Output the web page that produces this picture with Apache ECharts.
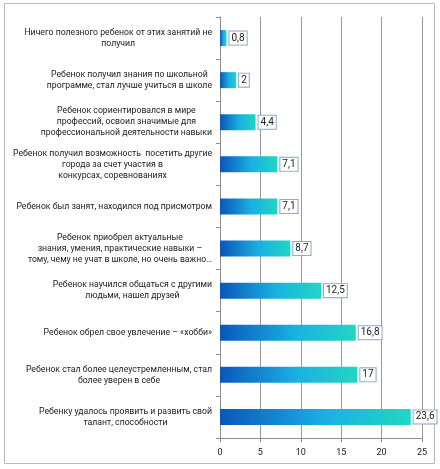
<!DOCTYPE html>
<html>
<head>
<meta charset="utf-8">
<script src="https://cdn.jsdelivr.net/npm/echarts@6/dist/echarts.min.js"></script>
<style>
  html, body { margin: 0; padding: 0; background: #fff; }
  #chart { width: 440px; height: 469px; }
</style>
</head>
<body>
<div id="chart"></div>
<script>
var categories = [
    'Ничего полезного ребенок от этих занятий не\nполучил',
    'Ребенок получил знания по школьной\nпрограмме, стал лучше учиться в школе',
    'Ребенок сориентировался в мире\nпрофессий, освоил значимые для\nпрофессиональной деятельности навыки',
    'Ребенок получил возможность  посетить другие\nгорода за счет участия в\nконкурсах, соревнованиях',
    'Ребенок был занят, находился под присмотром',
    'Ребенок приобрел актуальные\nзнания, умения, практические навыки –\nтому, чему не учат в школе, но очень важно…',
    'Ребенок научился общаться с другими\nлюдьми, нашел друзей',
    'Ребенок обрел свое увлечение – «хобби»',
    'Ребенок стал более целеустремленным, стал\nболее уверен в себе',
    'Ребенку удалось проявить и развить свой\nталант, способности'
];
var values = [0.8, 2, 4.4, 7.1, 7.1, 8.7, 12.5, 16.8, 17, 23.6];
var xTicks = [0, 5, 10, 15, 20, 25];

var chart = echarts.init(document.getElementById('chart'));

var option = {
    animation: false,
    textStyle: { fontFamily: 'Roboto' },
    graphic: [{
        type: 'rect',
        shape: { x: 4.5, y: 3.5, width: 430, height: 460 },
        style: { fill: 'none', stroke: '#b8b8b8', lineWidth: 1 },
        silent: true
    }],
    grid: { left: 220, right: 18, top: 17, bottom: 31 },
    xAxis: {
        type: 'value',
        min: xTicks[0],
        max: xTicks[xTicks.length - 1],
        interval: 5,
        axisLine: { show: true, lineStyle: { color: '#8c8c8c' } },
        axisTick: { show: true, length: 4, lineStyle: { color: '#8c8c8c' } },
        splitLine: { show: true, lineStyle: { color: '#9a9a9a' } },
        axisLabel: { color: '#222', fontSize: 9, margin: 10 }
    },
    yAxis: {
        type: 'category',
        inverse: true,
        data: categories,
        axisLine: { show: true, lineStyle: { color: '#8c8c8c' } },
        axisTick: { show: true, length: 4, lineStyle: { color: '#8c8c8c' } },
        axisLabel: {
            color: '#222',
            fontSize: 8.7,
            lineHeight: 11,
            margin: 8,
            formatter: function (v) {
                return v.split('\n').map(function (l) { return '{c|' + l + '}'; }).join('\n');
            },
            rich: { c: { align: 'center', fontSize: 8.7, lineHeight: 11, color: '#222' } }
        }
    },
    series: [{
        type: 'bar',
        data: values,
        barWidth: 16,
        itemStyle: {
            color: new echarts.graphic.LinearGradient(0, 0, 1, 0, [
                { offset: 0, color: '#0a56bb' },
                { offset: 0.55, color: '#1ab0e2' },
                { offset: 1, color: '#22d6c2' }
            ])
        },
        label: {
            show: true,
            position: 'right',
            distance: 3,
            color: '#222',
            fontSize: 10,
            backgroundColor: '#fff',
            borderColor: '#8fa8c4',
            borderWidth: 1,
            padding: [2, 2, 1, 2],
            formatter: function (p) { return String(p.value).replace('.', ','); }
        }
    }]
};

chart.setOption(option);
</script>
</body>
</html>
